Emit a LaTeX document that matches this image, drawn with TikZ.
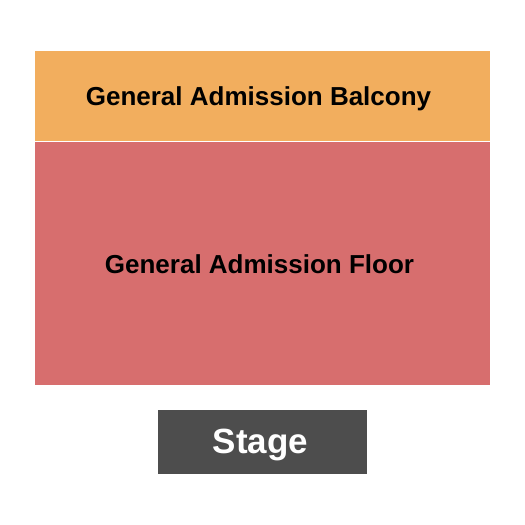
\documentclass[tikz,border=0pt]{standalone}
\usepackage{fontspec}
\setmainfont{Liberation Sans}
\definecolor{balconyorange}{HTML}{F2AE5E}
\definecolor{floorred}{HTML}{D76E6E}
\definecolor{stagegray}{HTML}{4D4D4D}
\begin{document}
\begin{tikzpicture}[x=1pt, y=-1pt,
    section/.style={inner sep=0pt, outer sep=0pt},
    sectionlabel/.style={inner sep=0pt, font=\bfseries\fontsize{26}{30}\selectfont}]
        \useasboundingbox[fill=white] (0,0) rectangle (525,525);
        \node[section, fill=balconyorange, minimum width=455pt, minimum height=90pt] (balcony) at (262.5,96) {};
        \node[section, fill=floorred, minimum width=455pt, minimum height=243pt] (floor) at (262.5,263.5) {};
        \node[section, fill=stagegray, minimum width=209pt, minimum height=64pt] (stage) at (262.5,442) {};
        \node[sectionlabel] (balconylabel) at (258.5,99) {General Admission Balcony};
        \node[sectionlabel] (floorlabel) at (259.5,264) {General Admission Floor};
        \node[sectionlabel, text=white, font=\bfseries\fontsize{35}{40}\selectfont] (stagelabel) at (260.5,445) {Stage};
    \end{tikzpicture}
\end{document}
